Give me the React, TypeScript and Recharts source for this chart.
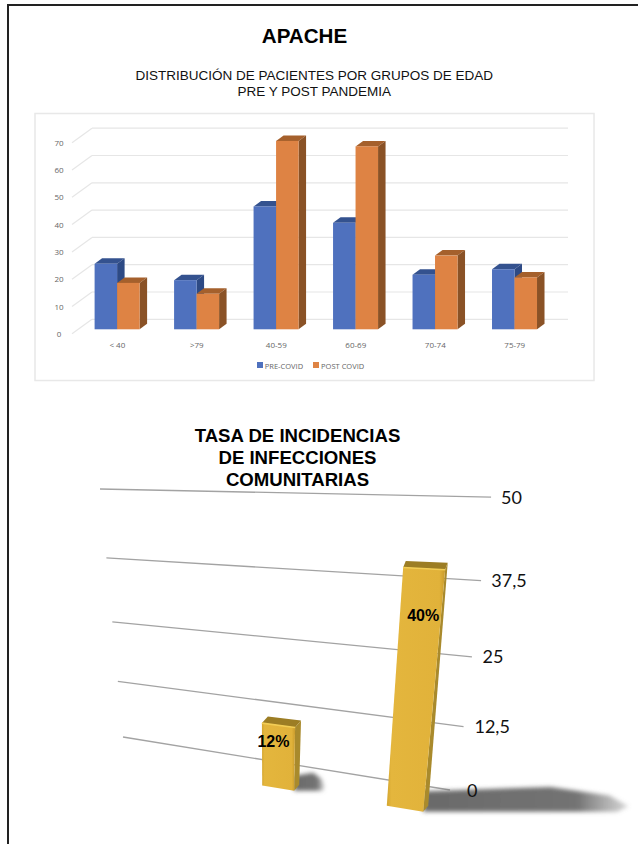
import React from "react";
import { BarChart, Bar, XAxis, YAxis, Legend, CartesianGrid } from "recharts";

// top chart
const ageGroups = ["< 40", ">79", "40-59", "60-69", "70-74", "75-79"];
const preCovid = [24, 18, 45, 39, 20, 22];
const postCovid = [17, 13, 69, 67, 27, 19];
const ageTicks = [0, 10, 20, 30, 40, 50, 60, 70];

// bottom chart
const infectionGroups = ["Grupo 1", "Grupo 2"];
const infectionRates = [12, 40];
const rateTicks = [0, 12.5, 25, 37.5, 50];

const ageData = ageGroups.map((name, i) => ({ name, pre: preCovid[i], post: postCovid[i] }));
const rateData = infectionGroups.map((name, i) => ({ name, rate: infectionRates[i] }));

const SANS = "'Liberation Sans', Arial, sans-serif";
const SMALL = "'Open Sans', sans-serif";

const Bar3D = (props: any) => {
  const { x, y, width, height, fill, top, side } = props;
  const dx = 7.5;
  const dy = 5.5;
  return (
    <g>
      <polygon points={`${x},${y} ${x + dx},${y - dy} ${x + width + dx},${y - dy} ${x + width},${y}`} fill={top} />
      <polygon
        points={`${x + width},${y} ${x + width + dx},${y - dy} ${x + width + dx},${y + height - dy} ${x + width},${y + height}`}
        fill={side}
      />
      <rect x={x} y={y} width={width} height={height} fill={fill} />
    </g>
  );
};

const AgeGridLine = (props: any) => {
  const back = props.y1 - 10;
  return (
    <g>
      <line x1={72} y1={props.y1 + 4.5} x2={92} y2={back} stroke="#e6e6e6" strokeWidth={1.2} />
      <line x1={92} y1={back} x2={568} y2={back} stroke="#e6e6e6" strokeWidth={1.2} />
    </g>
  );
};

const AgeTick = (props: any) => (
  <text x={59} y={props.y + 7.5} textAnchor="middle" fontSize={8} fontFamily={SMALL} fill="#666">
    {props.payload.value}
  </text>
);

const AgeLabel = (props: any) => {
  const { x, y, payload } = props;
  return (
    <text x={x} y={y + 11} textAnchor="middle" fontSize={8} fontFamily={SMALL} fill="#666">
      {payload.value}
    </text>
  );
};

// tilted plane of the lower chart: unit square to the picture's wall
const quad = [[123, 737], [450, 790], [484, 497], [100, 489]];
const CHART2_TOP = 420;
const PLOT_LEFT = 100;
const PLOT_TOP = 20;
const PLOT_H = 300;
const U_START = 0.334;
const U_PER_PX = 1 / 500;

const homography = () => {
  const [[x0, y0], [x1, y1], [x2, y2], [x3, y3]] = quad;
  const dx1 = x1 - x2, dx2 = x3 - x2, sx = x0 - x1 + x2 - x3;
  const dy1 = y1 - y2, dy2 = y3 - y2, sy = y0 - y1 + y2 - y3;
  const det = dx1 * dy2 - dx2 * dy1;
  const g = (sx * dy2 - dx2 * sy) / det;
  const h = (dx1 * sy - sx * dy1) / det;
  return {
    a: x1 - x0 + g * x1, b: x3 - x0 + h * x3, c: x0,
    d: y1 - y0 + g * y1, e: y3 - y0 + h * y3, f: y0, g, h,
  };
};
const H = homography();

const project = (u: number, v: number): [number, number] => {
  const w = H.g * u + H.h * v + 1;
  return [(H.a * u + H.b * v + H.c) / w, (H.d * u + H.e * v + H.f) / w - CHART2_TOP];
};
const toV = (y: number) => (PLOT_TOP + PLOT_H - y) / PLOT_H;
const toU = (x: number) => U_START + (x - PLOT_LEFT) * U_PER_PX;
const pts = (list: number[][]) => list.map((p) => p.join(",")).join(" ");

// bars stand in front of the wall, so they sit lower than its lines
const front = (u: number, v: number): [number, number] => {
  const [px, py] = project(u, v);
  return [px, py + 26 - 23.5 * v];
};

const RateBar = (props: any) => {
  const { x, y, width, payload, index } = props;
  const v = toV(y);
  const u1 = toU(x);
  const u2 = toU(x + width);
  const tl = front(u1, v);
  const tr = front(u2, v);
  const bl = front(u1, 0);
  const br = front(u2, 0);
  const capDx = 7.4 - 6 * v;
  const h = bl[1] - tl[1];

  const sx = Math.max((h - 32) / 185, 0.1);
  const sy = 0.78 + (0.3 * (h - 60)) / 180;
  const shadow = [[2, -19], [114, -23], [167, -15], [184, -5], [174, 0], [0, 0]].map(
    ([a, b]) => [br[0] + a * sx, br[1] + b * sy]
  );
  const faceId = `gold-face-${index}`;
  const fadeId = `gold-fade-${index}`;
  const blurId = `gold-blur-${index}`;
  return (
    <g>
      <defs>
        <linearGradient id={faceId} x1="0" x2="1" y1="0" y2="0">
          <stop offset="0" stopColor="#d4a630" />
          <stop offset="0.08" stopColor="#e4b63d" />
          <stop offset="0.9" stopColor="#e1b23a" />
          <stop offset="1" stopColor="#c99b2c" />
        </linearGradient>
        <linearGradient id={fadeId} x1="0" x2="1" y1="0" y2="0">
          <stop offset="0" stopColor="#6a6a6a" />
          <stop offset="0.75" stopColor="#737373" />
          <stop offset="1" stopColor="#8a8a8a" stopOpacity="0.35" />
        </linearGradient>
        <filter id={blurId} x="-20%" y="-40%" width="140%" height="180%">
          <feGaussianBlur stdDeviation={2.2} />
        </filter>
      </defs>
      <polygon points={pts(shadow)} fill={`url(#${fadeId})`} filter={`url(#${blurId})`} />
      <polygon
        points={pts([tl, [tl[0] + capDx, tl[1] - 6.5], [tr[0] + capDx, tr[1] - 7], tr])}
        fill="#9c7d24"
      />
      <polygon
        points={pts([tr, [tr[0] + capDx, tr[1] - 7], [br[0] + 5, br[1] - 6], br])}
        fill="#a98a2c"
      />
      <polygon points={pts([tl, tr, br, bl])} fill={`url(#${faceId})`} />
      <line x1={tl[0]} y1={tl[1]} x2={tr[0]} y2={tr[1]} stroke="#f2cd55" strokeWidth={1.6} />
      <text
        x={(tl[0] + tr[0]) / 2 - (h < 100 ? 5 : 1)}
        y={tl[1] + 0.17 * h + 13}
        textAnchor="middle"
        fontSize={16}
        fontWeight="bold"
        fontFamily={SANS}
        fill="#000"
      >
        {payload.rate}%
      </text>
    </g>
  );
};

const WallLine = (props: any) => {
  const v = toV(props.y1);
  const [x1, y1] = project(0, v);
  const [x2, y2] = project(v > 0 ? 1.015 : 1, v);
  return <line x1={x1} y1={y1} x2={x2} y2={y2} stroke="#a3a3a3" strokeWidth={1.3} />;
};

const WallLabel = (props: any) => {
  const v = toV(props.y);
  const [x2, y2] = project(1, v);
  return (
    <text x={x2 + 17} y={y2 + 7} fontSize={18} fontFamily="Lato, sans-serif" fill="#111">
      {String(props.payload.value).replace(".", ",")}
    </text>
  );
};

const App = () => {
  return (
    <div style={{ position: "absolute", left: 0, top: 0, width: 638, height: 844, background: "#fff", overflow: "hidden" }}>
      <svg width={638} height={844} style={{ position: "absolute", left: 0, top: 0 }}>
        <line x1={7} y1={5} x2={638} y2={5} stroke="#222" strokeWidth={2} />
        <line x1={8} y1={4} x2={8} y2={844} stroke="#222" strokeWidth={2} />
        <rect x={35} y={113.5} width={559} height={267} fill="#fff" stroke="#e8e8e8" strokeWidth={1.5} />
        <g fontFamily={SANS} textAnchor="middle" fill="#000">
          <text x={304.5} y={43} fontSize={20.6} fontWeight="bold">APACHE</text>
          <text x={314.3} y={80} fontSize={13.5} fill="#111">DISTRIBUCIÓN DE PACIENTES POR GRUPOS DE EDAD</text>
          <text x={314.3} y={96} fontSize={13.5} fill="#111">PRE Y POST PANDEMIA</text>
          <text x={297.5} y={441.5} fontSize={18.6} fontWeight="bold">TASA DE INCIDENCIAS</text>
          <text x={297.5} y={463.5} fontSize={18.6} fontWeight="bold">DE INFECCIONES</text>
          <text x={297.5} y={485.5} fontSize={18.6} fontWeight="bold">COMUNITARIAS</text>
        </g>
      </svg>

      <div style={{ position: "absolute", left: 0, top: 0 }}>
        <BarChart
          width={638}
          height={384}
          data={ageData}
          barSize={22.5}
          barGap={0}
          margin={{ left: 76.6, right: 83.5, top: 138.2, bottom: 34.7 }}
        >
          <CartesianGrid vertical={false} horizontal={(p: any) => <AgeGridLine key={p.index} {...p} />} />
          <YAxis width={1} domain={[0, 70]} ticks={ageTicks} interval={0} axisLine={false} tickLine={false} tick={<AgeTick />} />
          <XAxis dataKey="name" height={20} axisLine={false} tickLine={false} tick={<AgeLabel />} interval={0} />
          <Bar dataKey="pre" name="PRE-COVID" fill="#4f71be" isAnimationActive={false}
            shape={<Bar3D top="#34528f" side="#2d4a85" />} />
          <Bar dataKey="post" name="POST COVID" fill="#de8344" isAnimationActive={false}
            shape={<Bar3D top="#a5602c" side="#8a5226" />} />
          <Legend
            verticalAlign="middle"
            iconType="square"
            iconSize={6}
            itemSorter={null}
            formatter={(value: string) => (
              <span style={{ color: "#666", fontFamily: SMALL, fontSize: 7.5, marginLeft: -2 }}>{value}</span>
            )}
            wrapperStyle={{ top: 355, left: 215.5, width: 200, height: 14 }}
          />
        </BarChart>
      </div>

      <div style={{ position: "absolute", left: 0, top: CHART2_TOP }}>
        <BarChart
          width={638}
          height={424}
          data={rateData}
          barSize={49}
          margin={{ left: PLOT_LEFT - 1, right: 174, top: PLOT_TOP, bottom: 424 - PLOT_TOP - PLOT_H }}
        >
          <CartesianGrid vertical={false} horizontal={(p: any) => <WallLine key={p.index} {...p} />} />
          <XAxis dataKey="name" hide />
          <YAxis width={1} domain={[0, 50]} ticks={rateTicks} interval={0} axisLine={false} tickLine={false} tick={<WallLabel />} />
          <Bar dataKey="rate" isAnimationActive={false} fill="#e1b23a" shape={<RateBar />} />
        </BarChart>
      </div>
    </div>
  );
};

export default App;
